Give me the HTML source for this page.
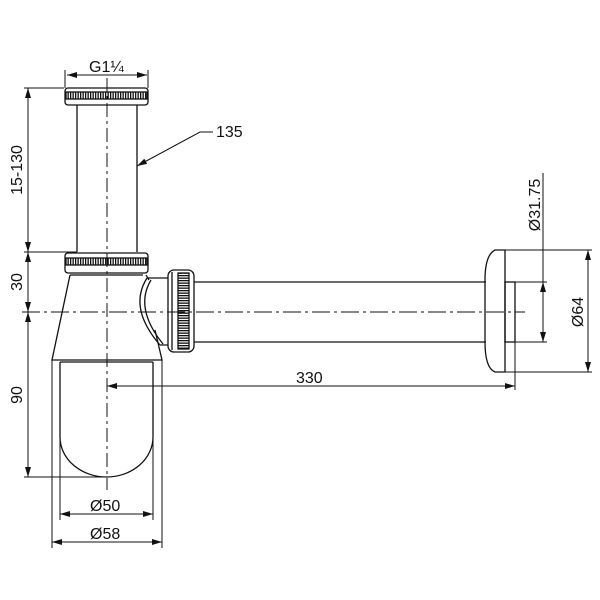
<!DOCTYPE html>
<html><head><style>body{margin:0;background:#fff}svg{display:block}</style></head><body>
<svg width="600" height="600" viewBox="0 0 600 600" xmlns="http://www.w3.org/2000/svg" font-family="Liberation Sans, sans-serif" font-size="16" fill="none" stroke="#111" stroke-width="1.3">
<defs>
<marker id="a" viewBox="0 0 10 6" refX="10" refY="3" markerWidth="10" markerHeight="6" orient="auto-start-reverse" markerUnits="userSpaceOnUse"><path d="M0,0L10,3L0,6z" fill="#111" stroke="none"/></marker>
<pattern id="k" width="2.5" height="4" patternUnits="userSpaceOnUse"><rect width="1.3" height="4" fill="#111" stroke="none"/></pattern>
<pattern id="kv" width="4" height="2.5" patternUnits="userSpaceOnUse"><rect width="4" height="1.3" fill="#111" stroke="none"/></pattern>
</defs>
<line x1="107" y1="78" x2="107" y2="490" stroke-dasharray="14,4,3,4" stroke-width="1"/>
<line x1="22" y1="312" x2="525" y2="312" stroke-dasharray="18,4,3,4" stroke-width="1"/>
<rect x="65" y="88" width="83" height="17" rx="3"/>
<rect x="66" y="92" width="81" height="7" fill="url(#k)"/>
<line x1="77" y1="105" x2="77" y2="252"/><line x1="137" y1="105" x2="137" y2="252"/>
<rect x="65" y="253" width="83" height="20" rx="3"/>
<rect x="66" y="258" width="81" height="7" fill="url(#k)"/>
<line x1="70" y1="275" x2="143" y2="275"/>
<path d="M70,275 L52,360 L162,360 L155,330"/>
<path d="M146,275 L149,280"/>
<line x1="60" y1="362" x2="153" y2="362"/>
<path d="M60,362 V437 A46.5,40 0 0 0 153,437 V362"/>
<line x1="52" y1="360" x2="52" y2="548" stroke-width="1"/>
<line x1="162" y1="360" x2="162" y2="548" stroke-width="1"/>
<line x1="60" y1="437" x2="60" y2="520" stroke-width="1"/>
<line x1="153" y1="437" x2="153" y2="520" stroke-width="1"/>
<path d="M147,278 L168,278 M160,345 L168,345"/>
<path d="M147,278 Q128,308 160,345 M151,280 Q134,308 163,344"/>
<rect x="168" y="270" width="26" height="82" rx="6"/>
<rect x="178" y="273" width="11" height="76" fill="url(#kv)"/>
<line x1="172" y1="272" x2="172" y2="350"/>
<line x1="194" y1="282" x2="486" y2="282"/><line x1="194" y1="342" x2="486" y2="342"/>
<path d="M505,250 L495,250 Q485,255 485,280 L485,342 Q485,368 495,372 L505,372 Z"/>
<rect x="505" y="282" width="10" height="60"/>
<g stroke-width="1">
<line x1="505" y1="250" x2="592" y2="250"/><line x1="505" y1="372" x2="592" y2="372"/>
<line x1="588" y1="250" x2="588" y2="372" marker-start="url(#a)" marker-end="url(#a)"/>
<line x1="515" y1="282" x2="547" y2="282"/><line x1="515" y1="342" x2="547" y2="342"/>
<line x1="543" y1="173" x2="543" y2="282"/>
<line x1="543" y1="282" x2="543" y2="342" marker-start="url(#a)" marker-end="url(#a)"/>
<line x1="515" y1="342" x2="515" y2="390"/>
<line x1="107" y1="386" x2="515" y2="386" marker-start="url(#a)" marker-end="url(#a)"/>
<line x1="24" y1="88" x2="64" y2="88"/><line x1="24" y1="252" x2="77" y2="252"/>
<line x1="24" y1="477" x2="107" y2="477"/>
<line x1="28" y1="88" x2="28" y2="252" marker-start="url(#a)" marker-end="url(#a)"/>
<line x1="28" y1="252" x2="28" y2="312" marker-start="url(#a)" marker-end="url(#a)"/>
<line x1="28" y1="312" x2="28" y2="477" marker-start="url(#a)" marker-end="url(#a)"/>
<line x1="65" y1="70" x2="65" y2="88"/><line x1="148" y1="70" x2="148" y2="88"/>
<line x1="67" y1="75" x2="147" y2="75" marker-start="url(#a)" marker-end="url(#a)"/>
<line x1="60" y1="514" x2="153" y2="514" marker-start="url(#a)" marker-end="url(#a)"/>
<line x1="52" y1="542" x2="162" y2="542" marker-start="url(#a)" marker-end="url(#a)"/>
<path d="M213,132 L200,132 L137,166" marker-end="url(#a)"/>
</g>
<g fill="#111" stroke="none">
<text x="89" y="72">G1¼</text>
<text x="216" y="137">135</text>
<text x="296" y="383">330</text>
<text x="90" y="511">Ø50</text>
<text x="90" y="539">Ø58</text>
<text transform="translate(22,170) rotate(-90)" text-anchor="middle">15-130</text>
<text transform="translate(22,282) rotate(-90)" text-anchor="middle">30</text>
<text transform="translate(22,395) rotate(-90)" text-anchor="middle">90</text>
<text transform="translate(540,205) rotate(-90)" text-anchor="middle">Ø31.75</text>
<text transform="translate(583,312) rotate(-90)" text-anchor="middle">Ø64</text>
</g>
</svg>
</body></html>
